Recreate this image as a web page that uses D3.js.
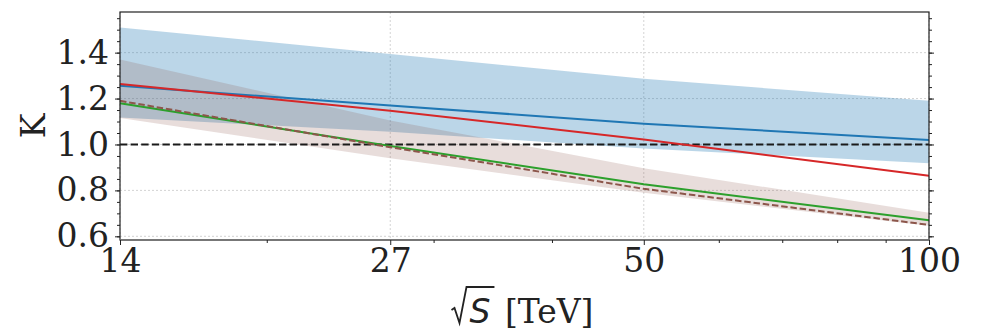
<!DOCTYPE html>
<html>
<head>
<meta charset="utf-8">
<script src="https://cdn.jsdelivr.net/npm/d3@7"></script>
<style>
  body { margin: 0; background: #fff; }
  svg { display: block; font-family: 'DejaVu Serif', serif; }
</style>
</head>
<body>
<svg id="chart"></svg>
<script>
// Data
const energies = [14, 27, 50, 100];
const kBlue = [1.256, 1.170, 1.090, 1.020];
const kRed = [1.263, 1.147, 1.022, 0.864];
const kGreen = [1.180, 0.993, 0.827, 0.670];
const kBrown = [1.190, 0.988, 0.807, 0.650];
const blueUpper = [1.510, 1.394, 1.286, 1.190];
const blueLower = [1.118, 1.055, 0.983, 0.918];
const brownUpper = [1.370, 1.105, 0.897, 0.703];
const brownLower = [1.115, 0.940, 0.790, 0.646];

const xTicks = [14, 27, 50, 100];
const xMinorTicks = [20, 30, 40, 60, 70, 80, 90];
const yTicks = [0.6, 0.8, 1.0, 1.2, 1.4];
const yMinorTicks = d3.range(0.6, 1.56, 0.05).map(v => +v.toFixed(2));

// Dimensions
const width = 982;
const height = 331;
const margin = { top: 12, right: 53, bottom: 91, left: 120 };

const svg = d3.select('#chart')
    .attr('width', width)
    .attr('height', height);

const x = d3.scaleLog()
    .domain([14, 100])
    .range([margin.left, width - margin.right]);

const y = d3.scaleLinear()
    .domain([0.584, 1.577])
    .range([height - margin.bottom, margin.top]);

const plotLeft = margin.left, plotRight = width - margin.right;
const plotTop = margin.top, plotBottom = height - margin.bottom;

// Grid
const grid = svg.append('g')
    .attr('stroke', '#c8c8c8')
    .attr('stroke-width', 0.8)
    .attr('stroke-dasharray', '2,2');
grid.selectAll('.gx').data(xTicks).enter().append('line')
    .attr('x1', d => x(d)).attr('x2', d => x(d))
    .attr('y1', plotTop).attr('y2', plotBottom);
grid.selectAll('.gy').data(yTicks).enter().append('line')
    .attr('x1', plotLeft).attr('x2', plotRight)
    .attr('y1', d => y(d)).attr('y2', d => y(d));

// Bands
function bandData(lo, hi) {
    return energies.map((e, i) => ({ e: e, lo: lo[i], hi: hi[i] }));
}
const area = d3.area()
    .x(d => x(d.e))
    .y0(d => y(d.lo))
    .y1(d => y(d.hi));

svg.append('path')
    .datum(bandData(blueLower, blueUpper))
    .attr('d', area)
    .attr('fill', '#1f77b4')
    .attr('fill-opacity', 0.3);

svg.append('path')
    .datum(bandData(brownLower, brownUpper))
    .attr('d', area)
    .attr('fill', '#8c564b')
    .attr('fill-opacity', 0.2);

// Reference line at K = 1
svg.append('line')
    .attr('x1', plotLeft).attr('x2', plotRight)
    .attr('y1', y(1)).attr('y2', y(1))
    .attr('stroke', '#1a1a1a')
    .attr('stroke-width', 2)
    .attr('stroke-dasharray', '7.4,3.2');

// Lines
const line = d3.line()
    .x(d => x(d.e))
    .y(d => y(d.k));

const series = [
    { values: kBlue, color: '#1f77b4', dash: null },
    { values: kRed, color: '#d62728', dash: null },
    { values: kGreen, color: '#2ca02c', dash: null },
    { values: kBrown, color: '#8c564b', dash: '6.5,2.8' }
];

series.forEach(s => {
    svg.append('path')
        .datum(energies.map((e, i) => ({ e: e, k: s.values[i] })))
        .attr('d', line)
        .attr('fill', 'none')
        .attr('stroke', s.color)
        .attr('stroke-width', 2)
        .attr('stroke-dasharray', s.dash);
});

// Frame
svg.append('rect')
    .attr('x', plotLeft).attr('y', plotTop)
    .attr('width', plotRight - plotLeft).attr('height', plotBottom - plotTop)
    .attr('fill', 'none')
    .attr('stroke', '#222')
    .attr('stroke-width', 1.2);
svg.append('line')
    .attr('x1', plotLeft).attr('x2', plotRight)
    .attr('y1', plotBottom).attr('y2', plotBottom)
    .attr('stroke', '#777')
    .attr('stroke-width', 1.5);

// X axis
const xAxis = d3.axisBottom(x)
    .tickValues(xTicks)
    .tickFormat(d3.format('d'))
    .tickSize(5)
    .tickPadding(4);
const gx = svg.append('g')
    .attr('transform', `translate(0,${plotBottom})`)
    .call(xAxis);
gx.select('.domain').remove();
gx.selectAll('text')
    .attr('font-family', 'DejaVu Serif')
    .attr('font-size', 33)
    .attr('fill', '#222');

const gxMinor = svg.append('g')
    .attr('transform', `translate(0,${plotBottom})`)
    .call(d3.axisBottom(x).tickValues(xMinorTicks).tickSize(3).tickFormat(''));
gxMinor.select('.domain').remove();

// Y axis left
const yAxis = d3.axisLeft(y)
    .tickValues(yTicks)
    .tickFormat(d3.format('.1f'))
    .tickSize(5)
    .tickPadding(6);
const gy = svg.append('g')
    .attr('transform', `translate(${plotLeft},0)`)
    .call(yAxis);
gy.select('.domain').remove();
gy.selectAll('text')
    .attr('font-family', 'DejaVu Serif')
    .attr('font-size', 33)
    .attr('fill', '#222');

const gyMinor = svg.append('g')
    .attr('transform', `translate(${plotLeft},0)`)
    .call(d3.axisLeft(y).tickValues(yMinorTicks).tickSize(3).tickFormat(''));
gyMinor.select('.domain').remove();

// Y axis right (ticks only)
const gyr = svg.append('g')
    .attr('transform', `translate(${plotRight},0)`)
    .call(d3.axisRight(y).tickValues(yTicks).tickSize(5).tickFormat(''));
gyr.select('.domain').remove();
const gyrMinor = svg.append('g')
    .attr('transform', `translate(${plotRight},0)`)
    .call(d3.axisRight(y).tickValues(yMinorTicks).tickSize(3).tickFormat(''));
gyrMinor.select('.domain').remove();

svg.selectAll('.tick line').attr('stroke', '#222');

// Axis labels
svg.append('text')
    .attr('transform', `translate(45,${(plotTop + plotBottom) / 2}) rotate(-90)`)
    .attr('text-anchor', 'middle')
    .attr('font-family', 'DejaVu Serif')
    .attr('font-size', 33)
    .attr('fill', '#222')
    .text('K');

// x label: sqrt(S) [TeV], radical drawn as a path
const labelBase = 323;
const labelCenter = (plotLeft + plotRight) / 2 - 2;
const xlab = svg.append('g').attr('fill', '#222');
const sText = xlab.append('text')
    .attr('font-family', 'DejaVu Sans')
    .attr('font-style', 'italic')
    .attr('font-size', 33)
    .attr('y', labelBase)
    .text('S');
const unitText = xlab.append('text')
    .attr('font-family', 'DejaVu Serif')
    .attr('font-size', 33)
    .attr('y', labelBase)
    .text('[TeV]');
const radW = 16;
const sW = sText.node().getComputedTextLength();
const unitW = unitText.node().getComputedTextLength();
const gap = 10.5;
const total = radW + 2 + sW + 4 + gap + unitW;
const x0 = labelCenter - total / 2;
sText.attr('x', x0 + radW + 2);
unitText.attr('x', x0 + radW + 2 + sW + 4 + gap);
const ovEnd = x0 + radW + 2 + sW + 4;
xlab.append('path')
    .attr('d', `M${x0},${labelBase - 13} L${x0 + 3},${labelBase - 15} L${x0 + 8},${labelBase} L${x0 + radW - 1},${labelBase - 36} L${ovEnd},${labelBase - 36}`)
    .attr('fill', 'none')
    .attr('stroke', '#222')
    .attr('stroke-width', 1.8)
    .attr('stroke-linejoin', 'miter');
</script>
</body>
</html>
